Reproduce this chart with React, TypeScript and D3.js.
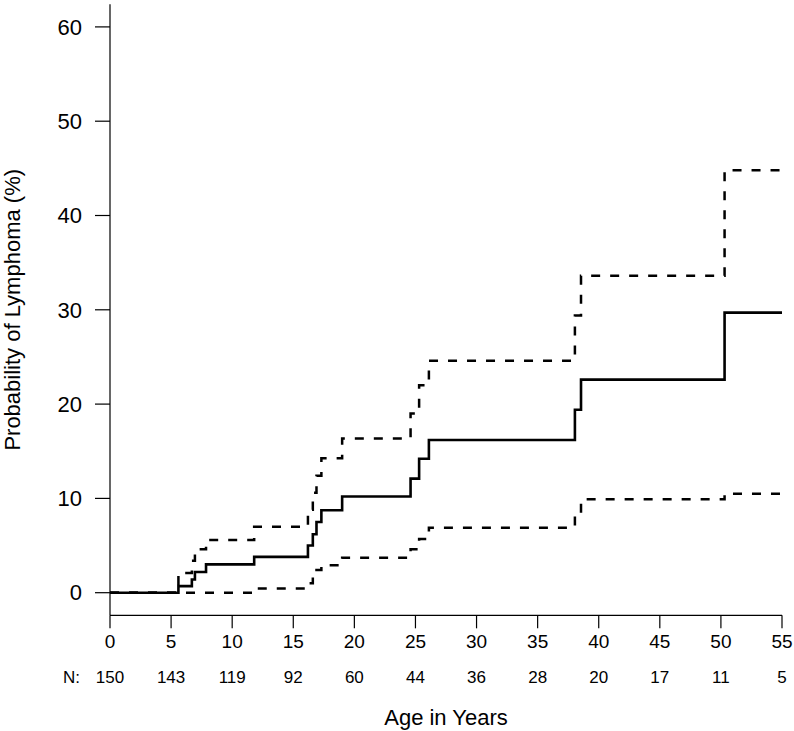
import React from "react";
import * as d3 from "d3";

const times = [0, 5.6, 6.7, 6.95, 7.86, 11.8, 16.2, 16.6, 16.9, 17.3, 19.0, 24.6, 25.3, 26.1, 38.05, 38.55, 50.3, 55];
const estimate = [0, 0.7, 1.4, 2.2, 3.0, 3.8, 5.0, 6.2, 7.5, 8.75, 10.2, 12.1, 14.2, 16.2, 19.4, 22.6, 29.7, 29.7];
const upper = [0, 2.1, 3.4, 4.6, 5.6, 7.0, 8.8, 10.6, 12.4, 14.25, 16.35, 19.0, 22.0, 24.6, 29.4, 33.6, 44.8, 44.8];
const lower = [0, 0, 0, 0, 0, 0.45, 1.0, 1.9, 2.4, 2.9, 3.7, 4.6, 5.7, 6.9, 8.3, 9.9, 10.5, 10.5];

const xTicks = [0, 5, 10, 15, 20, 25, 30, 35, 40, 45, 50, 55];
const yTicks = [0, 10, 20, 30, 40, 50, 60];
const atRisk = [150, 143, 119, 92, 60, 44, 36, 28, 20, 17, 11, 5];

const W = 794;
const H = 731;
const FONT = "'Liberation Sans', Arial, Helvetica, sans-serif";

export default function App() {
  const x = d3.scaleLinear().domain([0, 55]).range([110, 782]);
  const y = d3.scaleLinear().domain([0, 60]).range([592.7, 26.9]);
  const yBottom = y(-2.4);
  const yTop = y(62.4);

  const line = (vals: number[]) =>
    d3
      .line<number>()
      .x((_, i) => x(times[i]))
      .y((d) => y(d))
      .curve(d3.curveStepAfter)(vals) || "";

  return (
    <svg
      width={W}
      height={H}
      style={{ position: "absolute", left: 0, top: 0, background: "#fff" }}
      fontFamily={FONT}
    >
      <rect x={0} y={0} width={W} height={H} fill="#fff" />
      {/* axes */}
      <line x1={110} x2={110} y1={yTop} y2={yBottom} stroke="#000" strokeWidth={1.2} />
      <line x1={110} x2={782} y1={yBottom} y2={yBottom} stroke="#000" strokeWidth={1.2} />
      {yTicks.map((t) => (
        <g key={"y" + t}>
          <line x1={95} x2={110} y1={y(t)} y2={y(t)} stroke="#000" strokeWidth={1.2} />
          <text x={82} y={y(t)} dy="0.35em" textAnchor="end" fontSize={22}>
            {t}
          </text>
        </g>
      ))}
      {xTicks.map((t, i) => (
        <g key={"x" + t}>
          <line x1={x(t)} x2={x(t)} y1={yBottom} y2={yBottom + 13} stroke="#000" strokeWidth={1.2} />
          <text x={x(t)} y={648} textAnchor="middle" fontSize={19}>
            {t}
          </text>
          <text x={x(t)} y={683} textAnchor="middle" fontSize={17}>
            {atRisk[i]}
          </text>
        </g>
      ))}
      <text x={63} y={683} fontSize={17}>
        N:
      </text>
      <text x={446} y={725} textAnchor="middle" fontSize={22}>
        Age in Years
      </text>
      <text
        transform={`translate(20, ${y(30)}) rotate(-90)`}
        textAnchor="middle"
        fontSize={22}
      >
        Probability of Lymphoma (%)
      </text>
      {/* curves */}
      <path d={line(upper)} fill="none" stroke="#000" strokeWidth={2.5} strokeDasharray="9,10" />
      <path d={line(lower)} fill="none" stroke="#000" strokeWidth={2.5} strokeDasharray="9,10" />
      <path d={line(estimate)} fill="none" stroke="#000" strokeWidth={2.6} />
    </svg>
  );
}
